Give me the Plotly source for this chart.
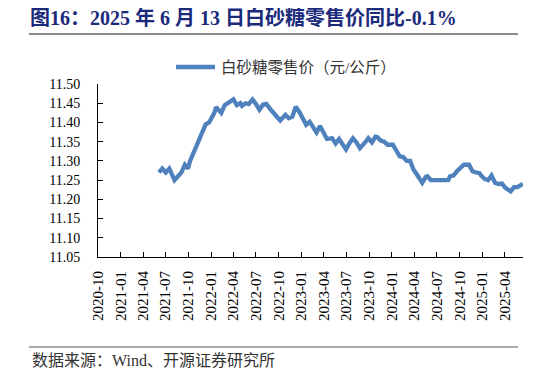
import plotly.graph_objects as go

dates = [
    "2021-06-04", "2021-06-18", "2021-07-02", "2021-07-16", "2021-07-23",
    "2021-08-06", "2021-08-20", "2021-09-03", "2021-09-17", "2021-09-30",
    "2021-10-08", "2021-10-22", "2021-11-05", "2021-11-19", "2021-12-03",
    "2021-12-10", "2021-12-24", "2022-01-07", "2022-01-14", "2022-01-21",
    "2022-01-28", "2022-02-11", "2022-02-25", "2022-03-18", "2022-04-01",
    "2022-04-15", "2022-04-29", "2022-05-06", "2022-05-20", "2022-06-02",
    "2022-06-17", "2022-07-01", "2022-07-15", "2022-07-29", "2022-08-12",
    "2022-09-02", "2022-09-16", "2022-10-07", "2022-10-28", "2022-11-11",
    "2022-11-25", "2022-12-09", "2022-12-23", "2023-01-06", "2023-01-20",
    "2023-02-03", "2023-02-17", "2023-03-03", "2023-03-17", "2023-03-31",
    "2023-04-14", "2023-05-05", "2023-05-19", "2023-06-02", "2023-06-30",
    "2023-07-14", "2023-07-28", "2023-08-11", "2023-08-25", "2023-09-15",
    "2023-09-28", "2023-10-13", "2023-10-27", "2023-11-03", "2023-11-17",
    "2023-12-01", "2023-12-15", "2024-01-05", "2024-01-19", "2024-02-02",
    "2024-02-16", "2024-03-01", "2024-03-15", "2024-03-29", "2024-04-12",
    "2024-04-26", "2024-05-03", "2024-05-17", "2024-05-24", "2024-06-07",
    "2024-07-05", "2024-08-02", "2024-08-16", "2024-08-23", "2024-09-06",
    "2024-09-20", "2024-10-11", "2024-10-18", "2024-11-08", "2024-11-22",
    "2024-12-06", "2024-12-20", "2024-12-27", "2025-01-10", "2025-01-24",
    "2025-02-07", "2025-02-21", "2025-03-07", "2025-03-21", "2025-04-04",
    "2025-04-25", "2025-05-09", "2025-05-23", "2025-06-13",
]

prices = [
    11.27, 11.28, 11.27, 11.28, 11.27,
    11.25, 11.26, 11.27, 11.29, 11.28,
    11.30, 11.32, 11.34, 11.36, 11.385,
    11.395, 11.40, 11.415, 11.425, 11.44,
    11.435, 11.425, 11.445, 11.455, 11.46,
    11.445, 11.45, 11.443, 11.45, 11.448,
    11.46, 11.448, 11.433, 11.446, 11.448,
    11.431, 11.422, 11.405, 11.42, 11.411,
    11.415, 11.441, 11.428, 11.411, 11.394,
    11.402, 11.385, 11.374, 11.391, 11.376,
    11.357, 11.359, 11.345, 11.357, 11.33,
    11.346, 11.359, 11.348, 11.333, 11.348,
    11.359, 11.348, 11.363, 11.362, 11.353,
    11.35, 11.342, 11.342, 11.325, 11.312,
    11.31, 11.30, 11.30, 11.277, 11.264,
    11.251, 11.243, 11.258, 11.26, 11.25,
    11.25, 11.25, 11.25, 11.26, 11.262,
    11.273, 11.284, 11.29, 11.29, 11.273,
    11.27, 11.268, 11.262, 11.253, 11.25,
    11.262, 11.243, 11.24, 11.241, 11.23,
    11.221, 11.232, 11.232, 11.24,
]

series_name = "白砂糖零售价（元/公斤）"
title_text = "图16：2025 年 6 月 13 日白砂糖零售价同比-0.1%"
source_text = "数据来源：Wind、开源证券研究所"

serif = "Liberation Serif, 'Noto Sans CJK SC', serif"
LINE_COLOR = "#4F81BD"

# page body adds an 8px margin; work in page pixel coordinates
OFF = 8
W, H = 546 - OFF, 377 - OFF
PL, PR, PT, PB = 98, 523, 84, 257  # plot area in page pixels


def px(x):
    return (x - PL) / (PR - PL)


def py(y):
    return (PB - y) / (PB - PT)


fig = go.Figure()
fig.add_trace(go.Scatter(
    x=dates, y=prices, mode="lines", name=series_name,
    line=dict(color=LINE_COLOR, width=4.3),
))

fig.update_layout(
    width=W, height=H,
    margin=dict(l=PL - OFF, r=W - (PR - OFF), t=PT - OFF, b=H - (PB - OFF)),
    paper_bgcolor="white", plot_bgcolor="white",
    font=dict(family=serif, size=14, color="black"),
    showlegend=False,
    title=dict(
        text="<b>" + title_text + "</b>",
        xref="container", yref="container",
        x=(30 - OFF) / W, y=1 - (18 - OFF) / H, xanchor="left", yanchor="middle",
        font=dict(family=serif, size=20, color="#1B2A7B"),
    ),
    xaxis=dict(
        type="date", range=["2020-10-01", "2025-06-14"],
        tick0="2020-10-01", dtick="M3", tickformat="%Y-%m",
        tickangle=-90, ticks="inside", ticklen=5, tickcolor="black",
        showline=True, linecolor="black", linewidth=1, showgrid=False,
        zeroline=False, tickfont=dict(size=15, color="black"),
        ticklabelstandoff=7,
    ),
    yaxis=dict(
        range=[11.05, 11.50], dtick=0.05, tick0=11.05, tickformat=".2f",
        ticks="inside", ticklen=5, tickcolor="black",
        showline=True, linecolor="black", linewidth=1, showgrid=False,
        zeroline=False, tickfont=dict(size=14, color="black"),
        ticklabelstandoff=14,
    ),
    shapes=[
        dict(type="line", xref="paper", yref="paper",
             x0=px(29), x1=px(518), y0=py(34), y1=py(34),
             line=dict(color="#8A8A8A", width=2)),
        dict(type="line", xref="paper", yref="paper",
             x0=px(29), x1=px(518), y0=py(347), y1=py(347),
             line=dict(color="#555555", width=1.2)),
        dict(type="line", xref="paper", yref="paper",
             x0=px(176), x1=px(215), y0=py(67), y1=py(67),
             line=dict(color=LINE_COLOR, width=4.5)),
    ],
    annotations=[
        dict(text=series_name, xref="paper", yref="paper",
             x=px(219), y=py(67), xanchor="left", yanchor="middle",
             showarrow=False,
             font=dict(family=serif, size=15.5, color="#333")),
        dict(text=source_text, xref="paper", yref="paper",
             x=px(30), y=py(360), xanchor="left", yanchor="middle",
             showarrow=False,
             font=dict(family=serif, size=16, color="#333")),
    ],
)

fig.write_html("out.html")
